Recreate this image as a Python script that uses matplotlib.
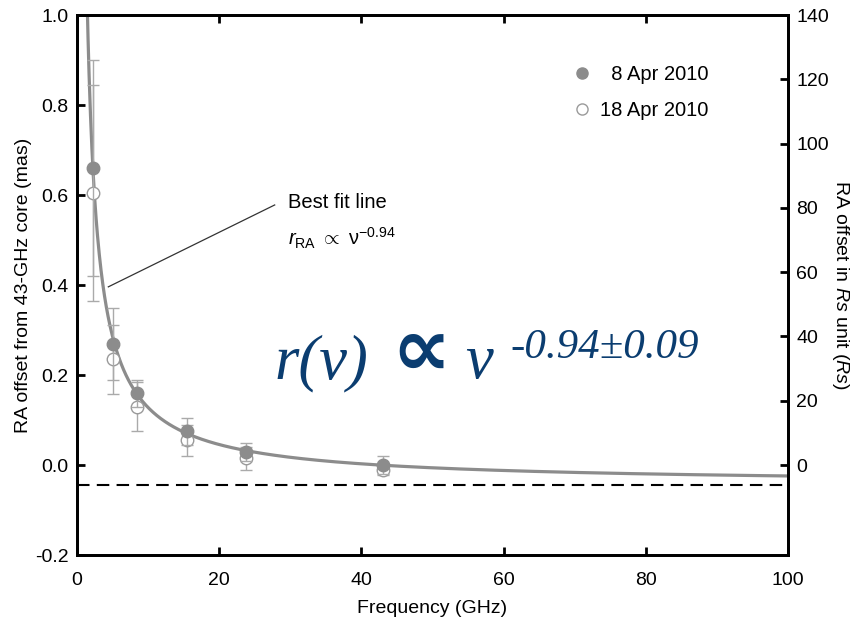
import numpy as np
import matplotlib
matplotlib.use("Agg")
import matplotlib.pyplot as plt
from matplotlib.lines import Line2D

plt.rcParams['font.family'] = ['Liberation Sans', 'DejaVu Sans']
plt.rcParams['mathtext.fontset'] = 'custom'
plt.rcParams['mathtext.rm'] = 'Liberation Sans'
plt.rcParams['mathtext.it'] = 'Liberation Sans:italic'

# frequencies (GHz)
freq = [2.3, 5.0, 8.4, 15.4, 23.8, 43.0]
# 8 Apr 2010 (filled)
off_apr8 = [0.66, 0.27, 0.16, 0.075, 0.03, 0.0]
err_apr8 = [0.24, 0.08, 0.03, 0.03, 0.02, 0.02]
# 18 Apr 2010 (open)
off_apr18 = [0.605, 0.235, 0.13, 0.055, 0.015, -0.01]
err_apr18 = [0.24, 0.077, 0.055, 0.035, 0.025, 0.013]

# best-fit model r = a * nu^-0.94 + c
fit_a = 1.496
fit_index = -0.94
fit_c = -0.044

mas_to_rs = 140.0

fig = plt.figure(figsize=(8.56, 6.28), dpi=100)
ax = fig.add_axes([0.090, 0.1162, 0.8306, 0.8598])

nu = np.linspace(1.2, 100, 2000)
ax.plot(nu, fit_a * nu**fit_index + fit_c, color='#8c8c8c', lw=2.3, zorder=2)
ax.axhline(fit_c, color='black', lw=1.5, ls=(0, (6, 3.5)), zorder=1)

ax.errorbar(freq, off_apr18, yerr=err_apr18, fmt='o', ms=9, mfc='white', mec='#9a9a9a',
            mew=1.0, ecolor='#aaaaaa', elinewidth=1.0, capsize=4, capthick=1.0, zorder=3)
ax.errorbar(freq, off_apr8, yerr=err_apr8, fmt='o', ms=9, mfc='#8c8c8c', mec='#8c8c8c',
            ecolor='#aaaaaa', elinewidth=1.0, capsize=4, capthick=1.0, zorder=4)

ax.set_xlim(0, 100)
ax.set_ylim(-0.2, 1.0)
ax.set_xticks(np.arange(0, 101, 20))
ax.set_yticks(np.arange(-0.2, 1.01, 0.2))
ax.yaxis.set_major_formatter(matplotlib.ticker.FormatStrFormatter('%.1f'))
ax.tick_params(direction='in', length=6, width=2, labelsize=14, top=True, right=False, pad=6)
ax.tick_params(axis='x', pad=12)
for s in ax.spines.values():
    s.set_linewidth(2)
ax.set_xlabel('Frequency (GHz)', fontsize=14, labelpad=8)
ax.set_ylabel('RA offset from 43-GHz core (mas)', fontsize=14, labelpad=2)

ax2 = ax.twinx()
ax2.set_ylim(-0.2 * mas_to_rs, 1.0 * mas_to_rs)
ax2.set_yticks(np.arange(0, 141, 20))
ax2.tick_params(direction='in', length=6, width=2, labelsize=14, pad=6)
for s in ax2.spines.values():
    s.set_linewidth(2)
ax2.set_ylabel('RA offset in $\\mathit{Rs}$ unit ($\\mathit{Rs}$)', fontsize=14,
               rotation=270, labelpad=16)

legend_handles = [
    Line2D([], [], ls='none', marker='o', ms=8, mfc='#8c8c8c', mec='#8c8c8c'),
    Line2D([], [], ls='none', marker='o', ms=8, mfc='white', mec='#9a9a9a', mew=1.0),
]
ax.legend(legend_handles, ['  8 Apr 2010', '18 Apr 2010'], loc='upper left',
          bbox_to_anchor=(0.696, 0.908), frameon=False, fontsize=14.5,
          handlelength=1.0, handletextpad=0.4, borderpad=0, borderaxespad=0,
          labelspacing=0.85)

# annotation for best fit line
ax.plot([4.4, 27.8], [0.396, 0.578], color='#333333', lw=0.9)
ax.text(29.7, 0.584, 'Best fit line', fontsize=14.5, va='center', ha='left')
ax.text(29.7, 0.504, '$\\mathit{r}_{\\mathrm{RA}}\\ \\propto\\ \\mathrm{\\nu}^{-0.94}$',
        fontsize=14.5, va='center', ha='left')

# big formula
blue = '#0b3d70'
serif = ['Liberation Serif', 'DejaVu Serif']
ax.text(27.8, 0.193, 'r(ν)', fontsize=45, color=blue, style='italic',
        family=serif, va='baseline', ha='left')
ax.text(44.2, 0.251, '∝', fontsize=60, color=blue, fontweight='bold',
        family=['DejaVu Sans'], va='center', ha='left')
ax.text(54.6, 0.193, 'ν', fontsize=45, color=blue, style='italic',
        family=serif, va='baseline', ha='left')
ax.text(60.9, 0.238, '-0.94±0.09', fontsize=31, color=blue, style='italic',
        family=serif, va='baseline', ha='left')

fig.savefig('out.png', dpi=100)
